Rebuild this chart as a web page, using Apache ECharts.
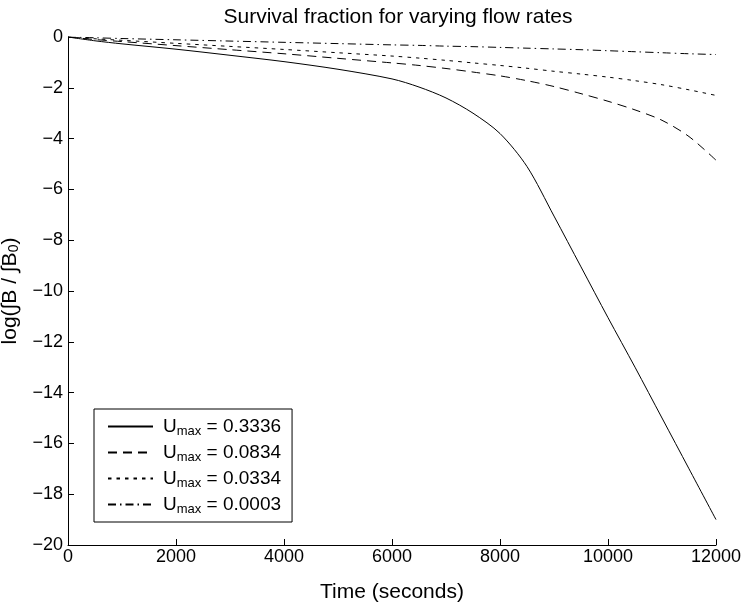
<!DOCTYPE html>
<html>
<head>
<meta charset="utf-8">
<script src="https://cdn.jsdelivr.net/npm/echarts@6/dist/echarts.min.js"></script>
<style>html,body{margin:0;padding:0;background:#fff;}#c{width:743px;height:609px;}</style>
</head>
<body>
<div id="c"></div>
<script>
var times = [0, 500, 1000, 2000, 3000, 4000, 5000, 6000, 6500, 7000, 7500, 8000, 8500, 9000, 9500, 10000, 10500, 11000, 11500, 12000];
var u3336 = [0, -0.15, -0.27, -0.48, -0.72, -0.97, -1.27, -1.65, -1.97, -2.4, -3.0, -3.8, -5.1, -7.05, -9.05, -11.05, -13.0, -15.0, -17.0, -19.0];
var u0834 = [0, -0.1, -0.18, -0.34, -0.5, -0.66, -0.84, -1.02, -1.12, -1.24, -1.38, -1.53, -1.72, -1.95, -2.23, -2.53, -2.87, -3.28, -3.92, -4.85];
var u0334 = [0, -0.07, -0.13, -0.25, -0.37, -0.49, -0.62, -0.75, -0.83, -0.92, -1.02, -1.12, -1.23, -1.35, -1.46, -1.58, -1.72, -1.88, -2.08, -2.3];
var u0003 = [0, -0.03, -0.06, -0.11, -0.16, -0.21, -0.26, -0.31, -0.33, -0.36, -0.38, -0.41, -0.44, -0.47, -0.5, -0.54, -0.58, -0.62, -0.66, -0.69];
var seriesNames = ['0.3336', '0.0834', '0.0334', '0.0003'];
var xTicks = [0, 2000, 4000, 6000, 8000, 10000, 12000];
var yTicks = [0, -2, -4, -6, -8, -10, -12, -14, -16, -18, -20];

var FONT = '"Liberation Sans", Arial, Helvetica, sans-serif';
function pairs(vals) { return times.map(function (t, i) { return [t, vals[i]]; }); }
var dashTypes = ['solid', [9, 6], [3.5, 5], [8, 4, 1.5, 4]];
var allVals = [u3336, u0834, u0334, u0003];
var series = allVals.map(function (v, i) {
  return {
    name: seriesNames[i],
    type: 'line',
    data: pairs(v),
    smooth: 0.3,
    symbol: 'none',
    lineStyle: { color: '#000', width: 1, type: dashTypes[i] },
    itemStyle: { color: '#000' }
  };
});

var chart = echarts.init(document.getElementById('c'), null, { renderer: 'canvas' });
chart.setOption({
  animation: false,
  backgroundColor: '#fff',
  title: {
    text: 'Survival fraction for varying flow rates',
    left: 393, top: 2, textAlign: 'center',
    textStyle: { fontFamily: FONT, fontSize: 21, fontWeight: 'normal', color: '#000' }
  },
  grid: { left: 68, right: 27, top: 37, bottom: 64, containLabel: false, outerBoundsMode: 'none' },
  xAxis: {
    type: 'value', min: 0, max: 12000, interval: 2000,
    name: 'Time (seconds)', nameLocation: 'middle', nameGap: 37,
    nameTextStyle: { fontFamily: FONT, fontSize: 21, color: '#000' },
    axisLine: { onZero: false, lineStyle: { color: '#000', width: 1 } },
    axisTick: { inside: true, length: 6, lineStyle: { color: '#000' } },
    axisLabel: {
      fontFamily: FONT, fontSize: 18, color: '#000', margin: 3,
      formatter: function (v) { return String(v); }
    },
    splitLine: { show: false }
  },
  yAxis: {
    type: 'value', min: -20, max: 0, interval: 2,
    name: '{a|log(∫B / ∫B}{s|0}{a|)}', nameLocation: 'middle', nameGap: 39, nameRotate: 90,
    nameTextStyle: {
      rich: {
        a: { fontFamily: FONT, fontSize: 21, color: '#000' },
        s: { fontFamily: FONT, fontSize: 14, color: '#000', padding: [9, 0, 0, 0] }
      }
    },
    axisLine: { onZero: false, lineStyle: { color: '#000', width: 1 } },
    axisTick: { inside: true, length: 6, lineStyle: { color: '#000' } },
    axisLabel: {
      fontFamily: FONT, fontSize: 18, color: '#000', margin: 5,
      formatter: function (v) { return String(v).replace('-', '\u2212'); }
    },
    splitLine: { show: false }
  },
  legend: {
    orient: 'vertical', left: 94, top: 409,
    data: seriesNames,
    backgroundColor: '#fff',
    borderColor: '#000', borderWidth: 1,
    padding: [8, 11, 6, 13],
    itemGap: 5, itemWidth: 45, itemHeight: 10,
    itemStyle: { opacity: 0 },
    formatter: function (n) { return '{g|}{a|U}{s|max}{a| = ' + n + '}'; },
    textStyle: {
      rich: {
        g: { width: 5, height: 20 },
        a: { fontFamily: FONT, fontSize: 19, color: '#000', height: 20 },
        s: { fontFamily: FONT, fontSize: 13, color: '#000', padding: [10, 0, 0, 0] }
      }
    }
  },
  series: series
});
</script>
</body>
</html>
